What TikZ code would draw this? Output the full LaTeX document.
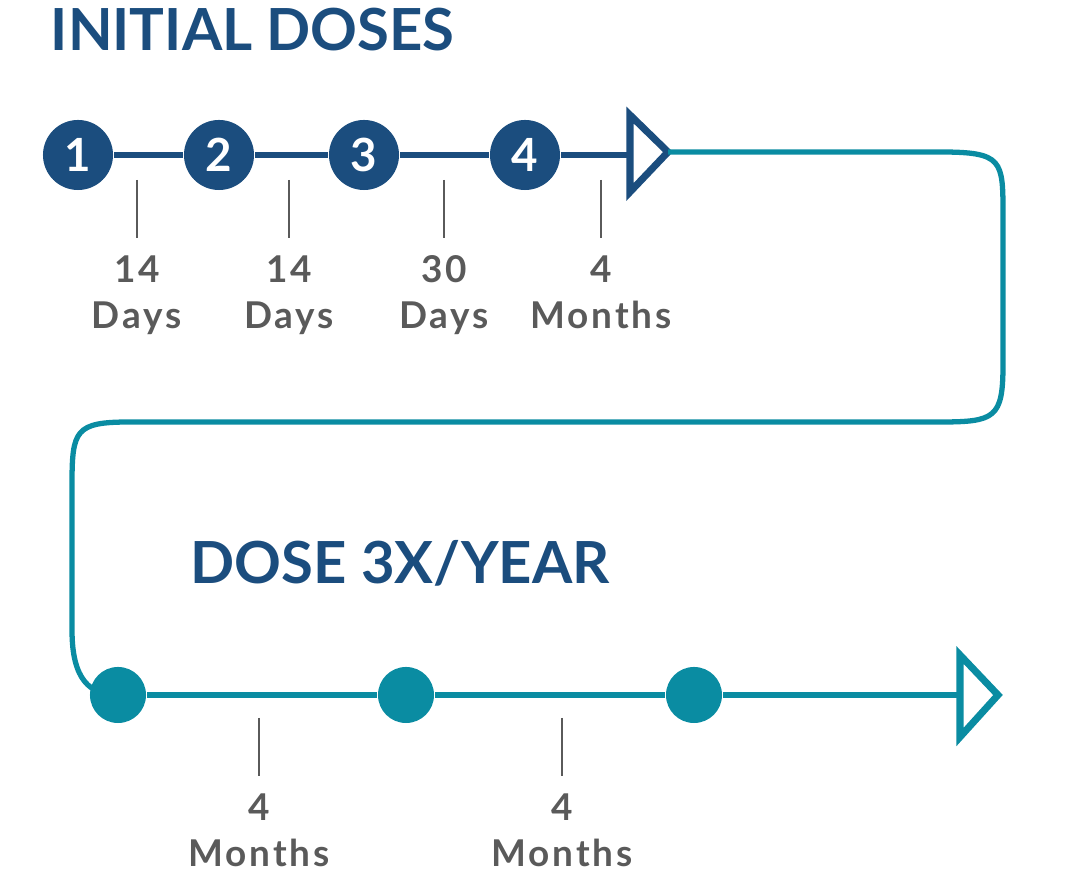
\documentclass[tikz,border=0pt]{standalone}
\usepackage{fontspec}
\setmainfont{Lato}
\usetikzlibrary{positioning}
\definecolor{navy}{HTML}{1B4D7E}
\definecolor{teal}{HTML}{0A8CA2}
\definecolor{txtgray}{HTML}{5A5A5A}
\tikzset{
  dose/.style={circle, fill=navy, minimum size=0.7cm, inner sep=0pt, text=white, font=\bfseries\fontsize{13}{13}\selectfont},
  tdose/.style={circle, fill=teal, minimum size=0.56cm, inner sep=0pt},
  gap/.style={align=center, text=txtgray, font=\bfseries\fontsize{10.5}{13}\selectfont\addfontfeature{LetterSpace=8}},
  title/.style={anchor=west, text=navy, font=\bfseries\fontsize{16.5}{18}\selectfont}
}
\begin{document}
\begin{tikzpicture}[x=0.01cm, y=-0.01cm, semithick]
    \useasboundingbox (0,0) rectangle (1066,880);

    % Titles
    \node (tinit) [title] at (38,30) {INITIAL DOSES};
    \node (tyear) [title] at (178,563) {DOSE 3X/YEAR};

    % Initial doses
    \node (d1) [dose] at (78,155) {1};
    \node (d2) [dose] at (219,155) {2};
    \node (d3) [dose] at (364,155) {3};
    \node (d4) [dose] at (525,155) {4};
    \coordinate (a1) at (630,155);
    \draw[navy, line width=1.5pt] (d1) -- (d2) -- (d3) -- (d4) -- (a1);
    \draw[navy, line width=2pt, line join=miter, fill=white] (630,115) -- (668,152) -- (630,192) -- cycle;

    % Gaps
    \foreach \x/\n/\u [count=\i] in {137/14/Days, 289/14/Days, 444/30/Days, 601/4/Months} {
      \coordinate (gt\i) at (\x,180);
      \coordinate (gb\i) at (\x,238);
      \draw[txtgray] (gt\i) -- (gb\i);
      \node (g\i) [gap, below=0.05cm of gb\i] {\n\\\u};
    }

    % Connecting path
    \coordinate (s) at (668,152);
    \draw[teal, line width=1.5pt] (s) -- (940,152) .. controls (1003,152) and (1003,160) .. (1003,215)
      -- (1003,365) .. controls (1003,418) and (995,422) .. (940,422)
      -- (130,422) .. controls (75,422) and (72,430) .. (72,485)
      -- (72,630) .. controls (72,680) and (90,695) .. (118,695);

    % Yearly doses
    \node (y1) [tdose] at (118,695) {};
    \node (y2) [tdose] at (406,695) {};
    \node (y3) [tdose] at (694,695) {};
    \coordinate (a2) at (960,695);
    \draw[teal, line width=1.5pt] (y1) -- (y2) -- (y3) -- (a2);
    \draw[teal, line width=2pt, line join=miter, fill=white] (960,655) -- (998,695) -- (960,737) -- cycle;

    \foreach \x [count=\i] in {259,562} {
      \coordinate (ht\i) at (\x,718);
      \coordinate (hb\i) at (\x,776);
      \draw[txtgray] (ht\i) -- (hb\i);
      \node (h\i) [gap, below=0.05cm of hb\i] {4\\Months};
    }
\end{tikzpicture}
\end{document}
